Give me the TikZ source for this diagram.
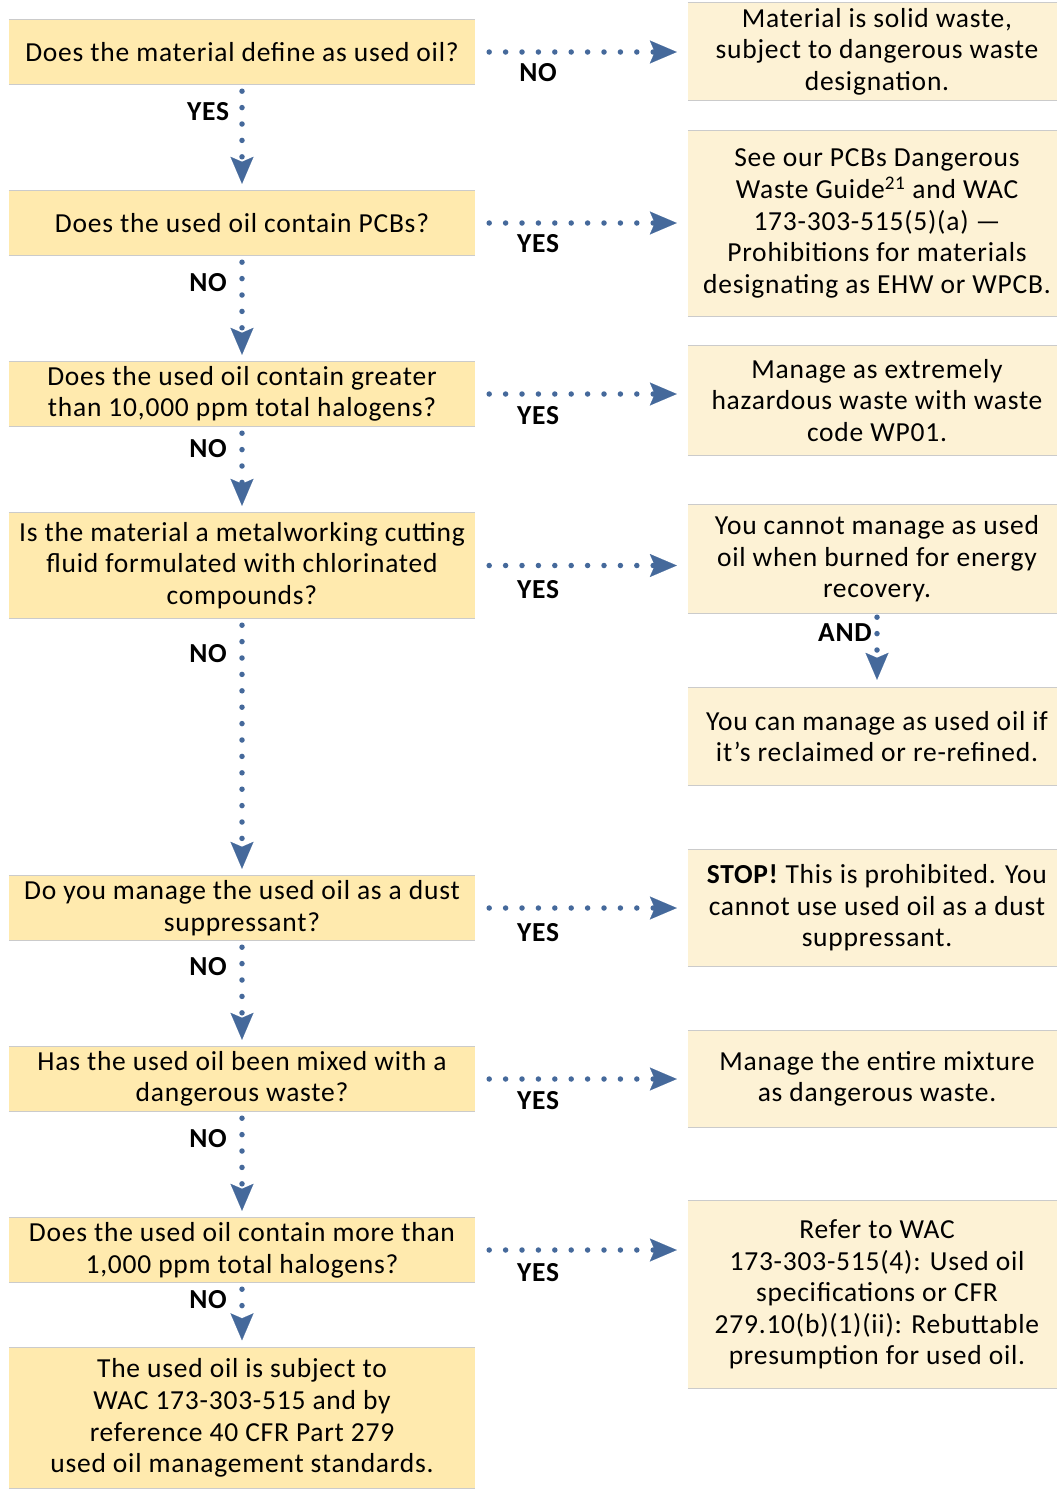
\documentclass[tikz,border=0pt]{standalone}
\usepackage{fontspec}
\setmainfont{Carlito}[LetterSpace=2.8]
\usetikzlibrary{arrows.meta}
\definecolor{qfill}{HTML}{FFEAAE}
\definecolor{afill}{HTML}{FDF2D5}
\definecolor{rulegray}{HTML}{CBCBCB}
\definecolor{flowblue}{HTML}{45699B}
\begin{document}
\begin{tikzpicture}[x=1pt,y=-1pt,
  txt/.style={align=center, inner sep=0pt, font=\fontsize{27.5}{31.6}\selectfont},
  qbox/.style={txt, fill=qfill, minimum width=466pt},
  abox/.style={txt, fill=afill, minimum width=378pt},
  lab/.style={inner sep=0pt, font=\fontsize{27.5}{30}\selectfont\bfseries},
  boxrule/.style={draw=rulegray, line width=1.3pt},
  flow/.style={draw=flowblue, line width=5.5pt, line cap=round, dash pattern=on 0pt off 16.4pt,
    -{Stealth[length=27pt, width=23pt, inset=5pt, line width=0.1pt]}},
  hflow/.style={flow, shorten <=14pt, shorten >=11pt},
  vflow/.style={flow, shorten <=7pt, shorten >=7pt}]
\useasboundingbox (0,0) rectangle (1057,1489);

% question boxes
\node[qbox, minimum height=64pt]  (q1) at (242,52)    {Does the material define as used oil?};
\node[qbox, minimum height=64pt]  (q2) at (242,223)   {Does the used oil contain PCBs?};
\node[qbox, minimum height=64pt]  (q3) at (242,394)   {Does the used oil contain greater\\ than 10,000 ppm total halogens?};
\node[qbox, minimum height=105pt] (q4) at (242,565.5) {Is the material a metalworking cutting\\ fluid formulated with chlorinated\\ compounds?};
\node[qbox, minimum height=64pt]  (q5) at (242,908)   {Do you manage the used oil as a dust\\ suppressant?};
\node[qbox, minimum height=64pt]  (q6) at (242,1079)  {Has the used oil been mixed with a\\ dangerous waste?};
\node[qbox, minimum height=64pt]  (q7) at (242,1250)  {Does the used oil contain more than\\ 1,000 ppm total halogens?};
\node[qbox, minimum height=141pt] (q8) at (242,1418)  {The used oil is subject to\\ WAC 173-303-515 and by\\ reference 40 CFR Part 279\\ used oil management standards.};

% answer boxes
\node[abox, minimum height=97pt]  (r1) at (877,51.5)   {Material is solid waste,\\ subject to dangerous waste\\ designation.};
\node[abox, minimum height=185pt] (r2) at (877,223.5)  {See our PCBs Dangerous\\ Waste Guide\textsuperscript{21} and WAC\\ 173-303-515(5)(a) —\\ Prohibitions for materials\\ designating as EHW or WPCB.};
\node[abox, minimum height=109pt] (r3) at (877,400.5)  {Manage as extremely\\ hazardous waste with waste\\ code WP01.};
\node[abox, minimum height=108pt] (r4) at (877,559)    {You cannot manage as used\\ oil when burned for energy\\ recovery.};
\node[abox, minimum height=97pt]  (r5) at (877,736.5)  {You can manage as used oil if\\ it’s reclaimed or re-refined.};
\node[abox, minimum height=116pt] (r6) at (877,908)    {\textbf{STOP!} This is prohibited. You\\ cannot use used oil as a dust\\ suppressant.};
\node[abox, minimum height=96pt]  (r7) at (877,1079)   {Manage the entire mixture\\ as dangerous waste.};
\node[abox, minimum height=187pt] (r8) at (877,1294.5) {Refer to WAC\\ 173-303-515(4): Used oil\\ specifications or CFR\\ 279.10(b)(1)(ii): Rebuttable\\ presumption for used oil.};

\foreach \n in {q1,q2,q3,q4,q5,q6,q7,q8,r1,r2,r3,r4,r5,r6,r7,r8}
  \draw[boxrule] (\n.north west) -- (\n.north east) (\n.south west) -- (\n.south east);

% horizontal connectors
\draw[hflow] (q1.east) -- (q1.east -| r1.west);
\draw[hflow] (q2.east) -- (q2.east -| r2.west);
\draw[hflow] (q3.east) -- (q3.east -| r3.west);
\draw[hflow] (q4.east) -- (q4.east -| r4.west);
\draw[hflow] (q5.east) -- (q5.east -| r6.west);
\draw[hflow] (q6.east) -- (q6.east -| r7.west);
\draw[hflow] (q7.east) -- (q7.east -| r8.west);

% vertical connectors
\draw[vflow] (q1.south) -- (q2.north);
\draw[vflow] (q2.south) -- (q3.north);
\draw[vflow] (q3.south) -- (q4.north);
\draw[vflow] (q4.south) -- (q5.north);
\draw[vflow] (q5.south) -- (q6.north);
\draw[vflow] (q6.south) -- (q7.north);
\draw[vflow] (q7.south) -- (q8.north);
\draw[flow, shorten <=4pt, shorten >=8pt] (r4.south) -- (r5.north);

% labels
\node[lab] (l1)  at (538,73)   {NO};
\node[lab] (l2)  at (538,244)  {YES};
\node[lab] (l3)  at (538,416)  {YES};
\node[lab] (l4)  at (538,590)  {YES};
\node[lab] (l5)  at (538,933)  {YES};
\node[lab] (l6)  at (538,1101) {YES};
\node[lab] (l7)  at (538,1273) {YES};
\node[lab] (v1)  at (208,112)  {YES};
\node[lab] (v2)  at (208,283)  {NO};
\node[lab] (v3)  at (208,449)  {NO};
\node[lab] (v4)  at (208,654)  {NO};
\node[lab] (v5)  at (208,967)  {NO};
\node[lab] (v6)  at (208,1139) {NO};
\node[lab] (v7)  at (208,1300) {NO};
\node[lab] (and) at (845,633)  {AND};
\end{tikzpicture}
\end{document}
